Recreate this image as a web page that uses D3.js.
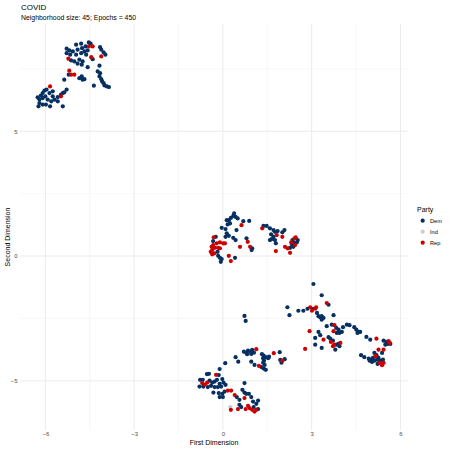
<!DOCTYPE html>
<html>
<head>
<meta charset="utf-8">
<script src="https://cdn.jsdelivr.net/npm/d3@7"></script>
<style>
  html, body { margin: 0; padding: 0; background: #fff; }
  svg { display: block; font-family: "Liberation Sans", Arial, sans-serif; }
</style>
</head>
<body>
<div id="chart"></div>
<script>
const parties = ["Dem", "Ind", "Rep"];
const partyColors = ["#053061", "#cccccc", "#cc0000"];
const xTicks = [-6, -3, 0, 3, 6];
const yTicks = [-5, 0, 5];
const xMinor = [-4.5, -1.5, 1.5, 4.5];
const yMinor = [-2.5, 2.5, 7.5];

const demPoints = [
  [-4.96,8.47],[-4.79,8.51],[-4.64,8.40],[-4.53,8.56],[-4.47,8.51],[-5.28,8.31],[-5.19,8.24],[-5.07,8.20],[-4.91,8.27],[-4.76,8.33],[-4.68,8.20],[-4.57,8.24],[-5.28,8.13],[-5.16,8.07],[-4.96,8.07],[-4.79,8.13],[-4.62,8.07],[-4.40,7.89],[-4.15,8.37],[-4.11,8.27],[-4.03,8.16],[-3.97,8.07],[-5.13,7.84],[-5.02,7.80],[-4.85,7.87],[-4.74,7.80],[-4.91,7.71],[-4.77,7.67],[-4.57,7.57],[-4.17,7.63],[-4.23,7.40],[-4.15,7.33],[-5.21,7.27],[-4.85,7.13],[-4.77,7.20],[-4.68,7.09],[-4.74,7.07],[-5.36,7.07],[-4.17,7.20],[-4.11,7.09],[-4.08,7.00],[-4.36,6.83],[-4.03,6.93],[-4.00,6.84],[-3.92,6.80],[-3.85,6.77],
  [-6.03,6.63],[-5.96,6.67],[-5.86,6.53],[-5.75,6.60],[-6.09,6.53],[-6.15,6.43],[-6.26,6.36],[-6.20,6.27],[-6.09,6.33],[-6.00,6.40],[-5.92,6.27],[-5.75,6.40],[-5.80,6.20],[-5.58,6.37],[-5.47,6.47],[-5.41,6.53],[-5.28,6.67],[-5.36,6.56],[-5.69,6.27],[-5.58,6.20],[-6.09,6.07],[-6.20,6.13],[-5.98,6.07],[-5.84,6.00],[-5.41,6.00],[-6.23,6.00],
  [0.38,1.71],[0.35,1.61],[0.43,1.57],[0.27,1.53],[0.20,1.44],[0.13,1.44],[0.50,1.51],[0.24,1.31],[0.16,1.27],[-0.04,1.13],[0.09,1.08],[0.69,1.40],[0.89,1.41],[0.46,1.04],[0.13,0.91],[0.09,0.77],[0.20,0.81],[0.35,0.73],[0.43,0.64],[-0.24,0.77],[-0.33,0.60],[-0.18,0.17],[-0.16,0.01],[-0.10,-0.07],[-0.04,-0.12],[-0.07,-0.23],[0.41,-0.07],[0.80,0.71],[0.97,0.24],[0.99,0.31],
  [1.37,1.21],[1.48,1.21],[1.59,1.11],[1.71,1.04],[1.76,0.97],[1.85,1.00],[1.63,0.87],[1.71,0.77],[1.65,0.68],[1.76,0.64],[1.59,0.64],[2.01,0.95],[2.08,1.04],[1.79,0.51],[2.27,0.33],[2.33,0.47],[2.38,0.55],[2.50,0.55],[2.35,0.64],[2.38,0.37],[2.53,0.64],
  [0.73,-2.40],[0.77,-2.60],[0.71,-3.83],[0.79,-3.87],[0.85,-3.79],[0.93,-3.83],[0.99,-3.76],[0.82,-3.93],[0.96,-3.92],[1.05,-3.87],[0.43,-4.05],[0.52,-4.23],[0.96,-4.23],[1.07,-4.36],[1.30,-4.45],[1.38,-4.51],[1.45,-4.56],[1.32,-3.93],[1.38,-3.99],[1.36,-4.09],[1.45,-4.05],[1.53,-4.09],[1.56,-4.03],[1.39,-4.19],[1.36,-4.27],[1.41,-4.36],[1.92,-3.85],[1.94,-4.16],[2.09,-4.13],[1.98,-4.27],[0.08,-4.29],[-0.11,-4.53],[-0.14,-4.77],[-0.54,-4.73],[-0.47,-4.72],[-0.02,-4.93],[-0.77,-4.96],[-0.68,-4.96],[-0.45,-4.99],[-0.36,-5.07],[-0.28,-5.03],[-0.20,-4.96],[-0.11,-5.12],[0.02,-5.07],[0.09,-5.16],[-0.79,-5.23],[-0.66,-5.23],[-0.51,-5.25],[-0.40,-5.20],[-0.28,-5.25],[-0.17,-5.25],[-0.06,-5.23],[-0.32,-5.47],[-0.14,-5.49],[-0.02,-5.52],[0.06,-5.43],[-0.11,-5.65],[0.00,-5.65],[0.73,-5.09],[0.66,-5.36],[0.73,-5.47],[0.79,-5.52],[0.47,-5.65],[0.56,-5.76],[0.88,-5.52],[0.96,-5.65],[1.02,-5.83],[1.13,-5.92],[1.19,-5.79],[0.56,-5.96],[0.62,-6.05],[1.19,-6.13],[1.04,-6.05],
  [3.06,-1.12],[3.34,-1.57],[3.57,-1.95],[2.18,-2.05],[2.25,-2.37],[2.55,-2.19],[2.72,-2.19],[2.86,-2.11],[3.04,-2.11],[3.18,-2.28],[3.23,-2.41],[3.29,-2.45],[3.34,-2.41],[3.40,-2.48],[3.34,-2.55],[3.74,-2.37],[3.51,-2.81],[3.68,-2.75],[3.83,-2.88],[3.91,-2.95],[3.85,-3.08],[3.94,-3.08],[4.02,-3.04],[4.06,-2.85],[4.19,-2.75],[4.28,-2.77],[4.44,-2.85],[4.51,-2.95],[4.59,-3.04],[4.64,-3.04],[4.55,-3.08],[4.85,-3.24],[4.98,-3.35],[5.43,-3.39],[5.53,-3.44],[5.57,-3.52],[5.66,-3.52],[5.49,-3.55],[5.38,-3.88],[3.23,-3.04],[3.29,-3.17],[3.12,-3.28],[3.57,-3.25],[3.63,-3.31],[3.72,-3.39],[3.83,-3.55],[3.91,-3.52],[3.94,-3.61],[3.80,-3.75],[3.34,-3.68],[3.12,-3.55],[4.67,-3.97],[4.78,-4.05],[4.93,-4.11],[5.01,-4.15],[5.07,-4.08],[5.12,-3.88],[5.19,-3.97],[5.26,-4.08],[5.21,-4.15],[5.30,-4.19],[5.38,-4.21],[5.41,-4.15],[5.04,-4.24],[4.96,-4.19],[5.12,-4.19],[5.23,-4.32]
];

const indPoints = [
  [0.25,-6.05]
];

const repPoints = [
  [-4.53,8.40],[-4.40,8.40],[-4.45,7.97],[-4.11,8.00],[-5.22,7.91],[-5.19,7.43],[-5.13,7.27],[-5.02,7.27],[-5.84,6.80],[-5.47,6.40],
  [0.63,1.24],[-0.31,0.75],[-0.33,0.44],[-0.38,0.37],[-0.27,0.33],[-0.21,0.51],[-0.10,0.55],[0.01,0.51],[0.07,0.51],[-0.16,0.33],[-0.10,0.31],[-0.36,0.24],[-0.41,0.17],[-0.29,0.11],[-0.36,0.07],[0.20,0.01],[0.27,-0.20],[0.58,0.37],[0.84,0.57],[0.92,0.37],[1.33,1.11],[1.82,0.84],[2.01,0.77],[1.79,0.20],[2.10,0.37],[2.19,0.31],[2.27,0.13],[2.42,0.71],[2.46,0.75],[2.31,0.55],[2.44,0.44],
  [1.13,-3.73],[1.22,-4.40],[1.72,-3.89],[2.01,-4.19],[-0.23,-4.76],[-0.70,-5.09],[-0.61,-5.15],[-0.53,-5.07],[0.17,-5.39],[0.28,-5.39],[0.40,-5.57],[0.73,-5.69],[0.51,-6.13],[0.77,-6.13],[0.85,-6.00],[0.90,-6.09],[0.99,-6.16],[1.07,-6.23],[1.13,-6.16],[0.27,-6.16],
  [3.51,-1.88],[2.95,-2.05],[3.01,-2.19],[3.12,-2.11],[3.15,-2.05],[3.77,-2.77],[3.74,-3.01],[5.19,-3.31],[5.60,-3.41],[5.64,-3.48],[5.43,-3.75],[5.26,-3.75],[2.93,-3.01],[3.40,-3.35],[3.65,-3.44],[3.76,-3.55],[3.72,-3.61],[3.97,-3.48],[2.78,-3.72],[5.15,-4.01],[5.38,-4.37],[5.43,-4.28],[5.30,-4.28]
];

const titleText = "COVID";
const subtitleText = "Neighborhood size: 45; Epochs = 450";
const xLabel = "First Dimension";
const yLabel = "Second Dimension";
const legendTitle = "Party";

const W = 450, H = 450;
const panel = { left: 20, right: 408, top: 24, bottom: 430 };

const all = demPoints.concat(indPoints, repPoints);
function expand(ext) { const r = ext[1] - ext[0]; return [ext[0] - 0.05 * r, ext[1] + 0.05 * r]; }
const x = d3.scaleLinear().domain(expand(d3.extent(all, d => d[0]))).range([panel.left, panel.right]);
const y = d3.scaleLinear().domain(expand(d3.extent(all, d => d[1]))).range([panel.bottom, panel.top]);

const svg = d3.select("#chart").append("svg").attr("width", W).attr("height", H);
svg.append("rect").attr("width", W).attr("height", H).attr("fill", "#fff");

// grid
const grid = svg.append("g");
grid.selectAll(".xminor").data(xMinor).join("line")
  .attr("x1", d => x(d)).attr("x2", d => x(d)).attr("y1", panel.top).attr("y2", panel.bottom)
  .attr("stroke", "#f2f2f2").attr("stroke-width", 0.6);
grid.selectAll(".yminor").data(yMinor).join("line")
  .attr("y1", d => y(d)).attr("y2", d => y(d)).attr("x1", panel.left).attr("x2", panel.right)
  .attr("stroke", "#f2f2f2").attr("stroke-width", 0.6);
grid.selectAll(".xmajor").data(xTicks).join("line")
  .attr("x1", d => x(d)).attr("x2", d => x(d)).attr("y1", panel.top).attr("y2", panel.bottom)
  .attr("stroke", "#ebebeb").attr("stroke-width", 1);
grid.selectAll(".ymajor").data(yTicks).join("line")
  .attr("y1", d => y(d)).attr("y2", d => y(d)).attr("x1", panel.left).attr("x2", panel.right)
  .attr("stroke", "#ebebeb").attr("stroke-width", 1);

// axes (labels only, ggplot minimal)
const xAxis = d3.axisBottom(x).tickValues(xTicks).tickSize(0).tickPadding(0).tickFormat(d => d < 0 ? "\u2212" + Math.abs(d) : d);
const gx = svg.append("g").attr("transform", `translate(0,${panel.bottom + 2})`).call(xAxis);
gx.select(".domain").remove();
gx.selectAll("text").attr("font-size", 6).attr("fill", "#4d4d4d").attr("font-family", "Liberation Sans, Arial, sans-serif").attr("dy", "0.71em");

const yAxis = d3.axisLeft(y).tickValues(yTicks).tickSize(0).tickPadding(0).tickFormat(d => d < 0 ? "\u2212" + Math.abs(d) : d);
const gy = svg.append("g").attr("transform", `translate(${panel.left - 2.5},0)`).call(yAxis);
gy.select(".domain").remove();
gy.selectAll("text").attr("font-size", 6).attr("fill", "#4d4d4d").attr("font-family", "Liberation Sans, Arial, sans-serif");

// points
const pts = svg.append("g");
const seriesList = [demPoints, indPoints, repPoints];
const drawOrder = [0, 1, 2];
drawOrder.forEach(i => {
  pts.append("g").selectAll("circle").data(seriesList[i]).join("circle")
    .attr("cx", d => x(d[0])).attr("cy", d => y(d[1])).attr("r", 2.1)
    .attr("fill", partyColors[i]);
});

// titles
svg.append("text").attr("x", 21).attr("y", 10).attr("font-size", 8).attr("fill", "#000").text(titleText);
svg.append("text").attr("x", 21).attr("y", 19.5).attr("font-size", 6.9).attr("fill", "#000").text(subtitleText);
svg.append("text").attr("x", 214).attr("y", 445).attr("text-anchor", "middle").attr("font-size", 7).attr("fill", "#000").text(xLabel);
svg.append("text").attr("transform", "translate(9.5,237) rotate(-90)").attr("text-anchor", "middle").attr("font-size", 7).attr("fill", "#000").text(yLabel);

// legend
const lg = svg.append("g");
lg.append("text").attr("x", 417).attr("y", 211.5).attr("font-size", 7).attr("fill", "#000").text(legendTitle);
const items = lg.selectAll(".item").data(parties).join("g").attr("transform", (d, i) => `translate(0,${220.7 + i * 11})`);
items.append("circle").attr("cx", 422.7).attr("cy", 0).attr("r", 2.1).attr("fill", (d, i) => partyColors[i]);
items.append("text").attr("x", 430).attr("y", 0).attr("dy", "0.35em").attr("font-size", 5.6).attr("fill", "#000").text(d => d);
</script>
</body>
</html>
